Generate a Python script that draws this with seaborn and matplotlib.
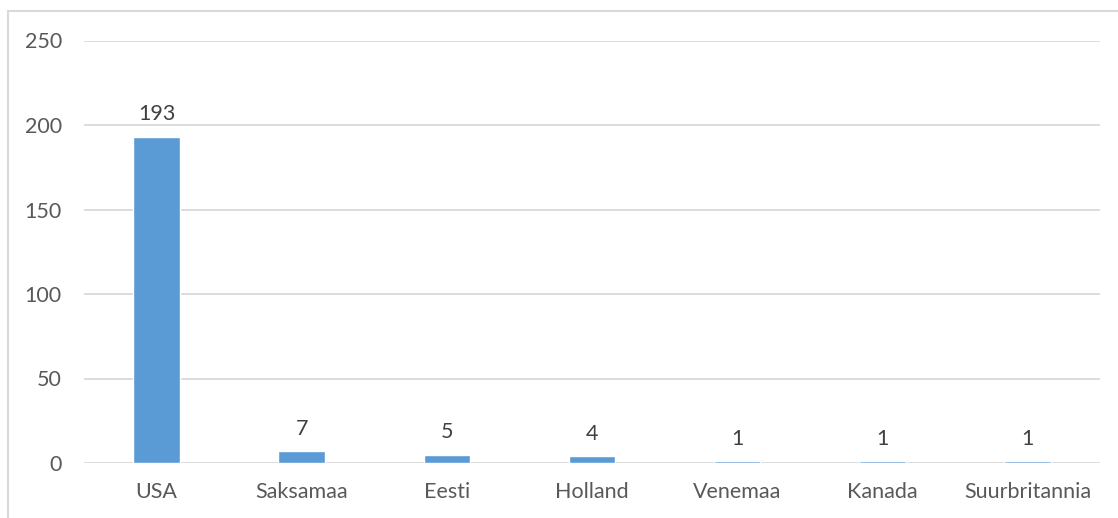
import pandas as pd
import matplotlib.pyplot as plt
import seaborn as sns
from matplotlib.patches import Rectangle

riigid = ["USA", "Saksamaa", "Eesti", "Holland", "Venemaa", "Kanada", "Suurbritannia"]
arvud = [193, 7, 5, 4, 1, 1, 1]
y_tikid = [0, 50, 100, 150, 200, 250]

df = pd.DataFrame({"Riik": riigid, "Arv": arvud})

sns.set_theme(style="white")
plt.rcParams['font.family'] = ['Lato', 'DejaVu Sans']

tekst_v = '#595959'
joon_v = '#D9D9D9'

fig = plt.figure(figsize=(11.18, 5.18), dpi=100)
ax = fig.add_axes([84 / 1118, 1 - 463 / 518, (1100 - 84) / 1118, (463 - 40.5) / 518])

sns.barplot(data=df, x="Riik", y="Arv", ax=ax, color='#5B9BD5', width=0.32,
            saturation=1, zorder=3)

ax.set_ylim(0, 250)
ax.set_yticks(y_tikid)
ax.set_xlim(-0.5, len(riigid) - 0.5)
ax.set_xlabel('')
ax.set_ylabel('')
for y in y_tikid:
    ax.axhline(y, color=joon_v, lw=1.3, zorder=1)
for s in ax.spines.values():
    s.set_visible(False)
ax.tick_params(axis='both', length=0, labelsize=15.5, colors=tekst_v)
ax.tick_params(axis='y', pad=16)
ax.tick_params(axis='x', pad=14)

for i, v in enumerate(arvud):
    ax.annotate(str(v), (i, v), xytext=(0, 9), textcoords='offset points',
                ha='center', va='bottom', fontsize=15.5, color='#404040')

# raam ümber joonise
fig.patches.append(Rectangle((8 / 1118, -0.1), 1.2, 1 - 11 / 518 + 0.1,
                             transform=fig.transFigure, fill=False,
                             edgecolor=joon_v, lw=1.5))

plt.savefig('out.png', dpi=100)
plt.close()
